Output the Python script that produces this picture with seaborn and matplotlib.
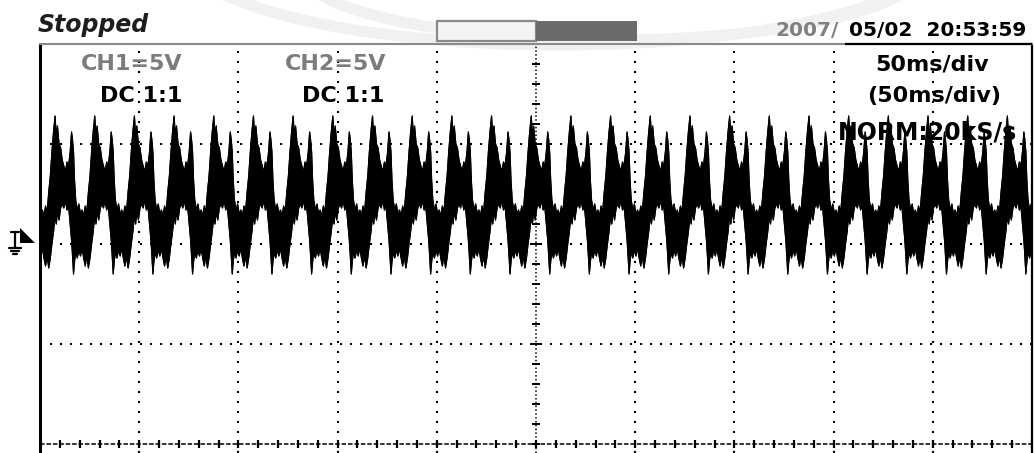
import numpy as np
import pandas as pd
import seaborn as sns
import matplotlib
matplotlib.use("Agg")
import matplotlib.pyplot as plt
from matplotlib.patches import Rectangle, Polygon, Arc
from matplotlib.lines import Line2D

# one 20 ms cycle of the CH1 trace (volts above the CH1 ground marker),
# phase measured from the tall spike; the scope draws min/max per column -> upper/lower envelope
cycle_ms = [0.0, 0.6, 1.2, 2.0, 2.8, 3.6, 4.4, 5.2, 6.0, 6.8, 7.6, 8.3, 8.8, 9.3, 9.8,
            10.4, 11.2, 12.0, 12.8, 13.6, 14.4, 15.2, 16.0, 16.8, 17.6, 18.4, 19.2]
cycle_hi = [6.4, 5.4, 5.9, 5.0, 4.8, 4.2, 3.9, 3.6, 4.1, 3.9, 4.6, 5.6, 5.2, 4.6, 3.2,
            2.2, 1.7, 2.0, 1.5, 1.7, 1.4, 1.9, 1.6, 2.6, 3.4, 4.6, 5.6]
cycle_lo = [1.4, 1.0, 1.6, 1.2, 1.8, 2.0, 1.8, 2.2, 1.7, 1.9, 1.0, 0.2, -0.6, -1.5, -0.9,
            -0.4, -0.7, -0.3, -0.6, -0.2, -0.7, -1.1, -0.6, -1.2, -0.7, 0.0, 0.6]
first_peak_ms = 7.6
period_ms = 20
n_cycles = 27

# screen: 10 div x 50 ms, 5 V/div, only the upper half of the screen is visible
x_grid = [50, 100, 150, 200, 300, 350, 400, 450]
y_grid = [5, 0, -5]

t = np.concatenate([first_peak_ms + (k - 1) * period_ms + np.array(cycle_ms) for k in range(n_cycles)])
df = pd.DataFrame({"t": t,
                   "hi": np.tile(cycle_hi, n_cycles),
                   "lo": np.tile(cycle_lo, n_cycles)})

sns.set_style("white")
plt.rcParams['font.family'] = ['DejaVu Sans']

W, H = 1035, 453
fig = plt.figure(figsize=(W / 100, H / 100), dpi=100)
ax = fig.add_axes([40 / W, 0, 992 / W, 409 / H])
ax.set_xlim(0, 500)
ax.set_ylim(-10.45, 10)

def px(x, y):
    return (x / W, 1 - y / H)

# faint watermark arcs behind the header
for cx, cy, w, h in [(560, -50, 760, 190), (610, -30, 620, 140)]:
    fig.add_artist(Arc(px(cx, cy), w / W, h / H, theta1=180, theta2=360,
                       color="#f1f1f1", lw=8, transform=fig.transFigure, zorder=0))

# grid
dots = (0, (1, 3.8))
for xv in x_grid:
    ax.axvline(xv, color="black", lw=1.5, ls=dots, zorder=1)
for yv in y_grid:
    ax.axhline(yv, color="black", lw=1.5, ls=dots, zorder=1)
ax.axvline(250, color="black", lw=1.1, ls=(0, (1, 1.5)), zorder=1)
ax.hlines(np.arange(-10, 10.5, 1), 247.8, 252.2, color="black", lw=1.4, zorder=1)
ax.axhline(-10, color="black", lw=1.1, ls=(0, (3, 1.2)), zorder=1)
ax.vlines(np.arange(0, 501, 10), -10.22, -9.78, color="black", lw=1.6, zorder=1)

# trace
ax.fill_between(df["t"], df["lo"], df["hi"], color="black", lw=0.8, edgecolor="black", zorder=2)
sns.lineplot(data=df, x="t", y="hi", color="black", lw=0.8, ax=ax, zorder=2)
sns.lineplot(data=df, x="t", y="lo", color="black", lw=0.8, ax=ax, zorder=2)

ax.set_xticks([])
ax.set_yticks([])
ax.set_xlabel("")
ax.set_ylabel("")
ax.patch.set_alpha(0)
ax.spines["bottom"].set_visible(False)
ax.spines["left"].set_color("black")
ax.spines["left"].set_linewidth(2.2)
ax.spines["top"].set_color("#8a8a8a")
ax.spines["top"].set_linewidth(1.5)
ax.spines["right"].set_color("black")
ax.spines["right"].set_linewidth(1.6)
ax.hlines(10, 405.5, 500, color="black", lw=1.6, clip_on=False, zorder=3)

# on-screen labels
txt = dict(va="baseline", zorder=5)
fig.text(*px(132, 70), "CH1=5V", ha="center", color="#7c7c7c", weight="bold", size=16, **txt)
fig.text(*px(141, 102), "DC 1:1", ha="center", color="black", weight="bold", size=16, **txt)
fig.text(*px(336, 70), "CH2=5V", ha="center", color="#7c7c7c", weight="bold", size=16, **txt)
fig.text(*px(343, 102), "DC 1:1", ha="center", color="black", weight="bold", size=16, **txt)
fig.text(*px(932, 70), "50ms/div", ha="center", color="black", weight="bold", size=16, **txt)
fig.text(*px(934, 102), "(50ms/div)", ha="center", color="black", weight="bold", size=16, **txt)
fig.text(*px(927, 139), "NORM:20kS/s", ha="center", color="black", weight="bold", size=17, **txt)

# header
fig.text(*px(38, 32), "Stopped", ha="left", color="#1e1e1e", weight="bold", style="italic", size=17, **txt)
fig.text(*px(775, 36), "2007/", ha="left", color="#808080", weight="bold", size=14.5, **txt)
fig.text(*px(1026, 36), "05/02  20:53:59", ha="right", color="black", weight="bold", size=14.5, **txt)

fig.add_artist(Rectangle(px(437, 41), 99 / W, 20 / H, facecolor="#f4f4f4",
                         edgecolor="#8a8a8a", lw=1.6, transform=fig.transFigure))
fig.add_artist(Rectangle(px(536, 41), 101 / W, 20 / H, facecolor="#6b6b6b",
                         edgecolor="none", transform=fig.transFigure))

# CH1 ground marker
fig.add_artist(Polygon([px(20, 228), px(20, 243), px(35, 243)], closed=True,
                       facecolor="black", edgecolor="none", transform=fig.transFigure))
for seg in [((11, 19), (232, 232)), ((15, 15), (232, 248)), ((9, 21), (248, 248)),
            ((11, 19), (251, 251)), ((13, 17), (254, 254))]:
    (x0, x1), (y0, y1) = seg
    fig.add_artist(Line2D([x0 / W, x1 / W], [1 - y0 / H, 1 - y1 / H], color="black",
                          lw=1.6, transform=fig.transFigure))

fig.savefig("out.png", dpi=100)
